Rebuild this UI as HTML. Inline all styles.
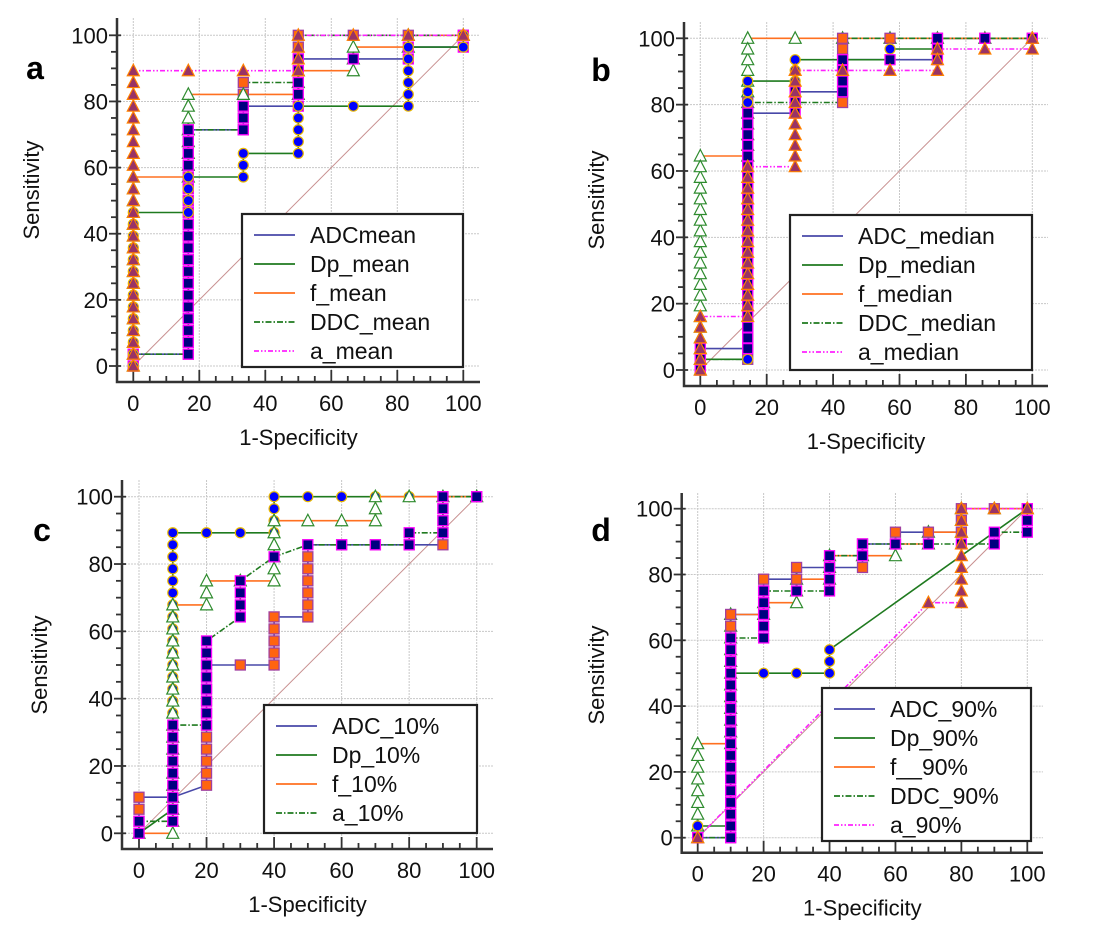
<!DOCTYPE html>
<html><head><meta charset="utf-8">
<style>
html,body{margin:0;padding:0;background:#fff;}
svg{display:block;font-family:"Liberation Sans",Arial,sans-serif;}
</style></head>
<body>
<svg id="fig" width="1094" height="931" viewBox="0 0 1094 931" xmlns="http://www.w3.org/2000/svg"></svg>
<script>
// ---- data (corner points: [false-positive count, true-positive count]) ----
const tickLabels = [0,20,40,60,80,100];
const legendA = ["ADCmean","Dp_mean","f_mean","DDC_mean","a_mean"];
const legendB = ["ADC_median","Dp_median","f_median","DDC_median","a_median"];
const legendC = ["ADC_10%","Dp_10%","f_10%","a_10%"];
const legendD = ["ADC_90%","Dp_90%","f__90%","DDC_90%","a_90%"];

const aADC = [[0,0],[0,1],[1,1],[1,20],[2,20],[2,22],[3,22],[3,26],[5,26],[5,27],[6,27],[6,28]];
const aDp  = [[0,0],[0,13],[1,13],[1,16],[2,16],[2,18],[3,18],[3,22],[5,22],[5,27],[6,27],[6,28]];
const aF   = [[0,0],[0,16],[1,16],[1,23],[3,23],[3,25],[4,25],[4,27],[5,27],[5,28],[6,28]];
const aDDC = [[0,0],[0,1],[1,1],[1,20],[2,20],[2,24],[3,24],[3,28],[6,28]];
const aA   = [[0,0],[0,25],[3,25],[3,28],[6,28]];

const bADC = [[0,0],[0,2],[1,2],[1,24],[2,24],[2,26],[3,26],[3,29],[5,29],[5,31],[7,31]];
const bDp  = [[0,0],[0,1],[1,1],[1,27],[2,27],[2,29],[4,29],[4,30],[5,30],[5,31],[7,31]];
const bF   = [[0,0],[0,20],[1,20],[1,31],[7,31]];
const bDDC = [[0,0],[0,1],[1,1],[1,25],[3,25],[3,31],[7,31]];
const bA   = [[0,0],[0,5],[1,5],[1,19],[2,19],[2,28],[5,28],[5,30],[7,30],[7,31]];

const cADC = [[0,0],[0,3],[1,3],[2,4],[2,14],[4,14],[4,18],[5,18],[5,24],[7,24],[9,24],[9,28],[10,28]];
const cDp  = [[0,0],[1,2],[1,25],[4,25],[4,28],[10,28]];
const cF   = [[0,0],[1,0],[1,19],[2,19],[2,21],[4,21],[4,26],[7,26],[7,28],[10,28]];
const cA   = [[0,0],[0,1],[1,1],[1,9],[2,9],[2,16],[3,18],[3,21],[4,23],[5,24],[8,24],[8,25],[9,25],[9,28],[10,28]];

const dADC = [[0,0],[1,0],[1,19],[2,19],[2,22],[3,22],[3,23],[5,23],[5,25],[6,25],[6,26],[8,26],[8,28],[10,28]];
const dDp  = [[0,0],[0,1],[1,1],[1,14],[4,14],[4,16],[10,28]];
const dF   = [[0,0],[0,8],[1,8],[1,19],[2,19],[2,20],[3,20],[3,22],[4,22],[4,24],[6,24],[6,25],[7,25],[7,26],[8,26],[8,28],[10,28]];
const dDDC = [[0,0],[1,0],[1,17],[2,17],[2,21],[4,21],[4,24],[5,24],[5,25],[9,25],[9,26],[10,26],[10,28]];
const dA   = [[0,0],[7,20],[8,20],[8,28],[10,28]];

// ---- styles ----
const LINE = {
  ADC:{c:"#4848a8",d:""}, Dp:{c:"#1f7a1f",d:""}, f:{c:"#ff7020",d:""},
  DDC:{c:"#1f7a1f",d:"6,2,1.5,2"}, a:{c:"#ff20ff",d:"5,2,1.5,2,1.5,2"}
};
const MK = {
  navy:{t:"sq",f:"#000080",s:"#ff00ff"}, orange:{t:"sq",f:"#ff6410",s:"#a040a0"},
  circ:{t:"ci",f:"#0000ff",s:"#e8b800"}, wtri:{t:"tr",f:"#ffffff",s:"#2e8b2e"},
  ptri:{t:"tr",f:"#993366",s:"#ff8000"}
};

const panels = [
 {id:"a",x0:133.3,x1:463.3,y0:366,y1:35.3,left:117,bottom:382,top:18,right:480,M:6,N:28,
  lg:{x:242,y:214,w:221,h:153},labels:legendA,letter:[35,68],ytitle:[32,190],
  series:[["ADC",aADC,"navy"],["Dp",aDp,"circ"],["f",aF,"wtri"],["DDC",aDDC,"orange"],["a",aA,"ptri"]],
  order:[3,2,0,1,4]},
 {id:"b",x0:700.3,x1:1032.3,y0:370,y1:38.3,left:684,bottom:386,top:22,right:1048,M:7,N:31,
  lg:{x:790,y:215,w:242,h:155},labels:legendB,letter:[601,70],ytitle:[597,200],
  series:[["ADC",bADC,"navy"],["Dp",bDp,"circ"],["f",bF,"wtri"],["DDC",bDDC,"orange"],["a",bA,"ptri"]],
  order:[2,3,1,0,4]},
 {id:"c",x0:139,x1:476.7,y0:833.3,y1:496.7,left:122,bottom:849,top:480,right:493,M:10,N:28,
  lg:{x:264,y:705,w:213,h:128},labels:legendC,letter:[42,530],ytitle:[40,665],
  series:[["ADC",cADC,"orange"],["Dp",cDp,"circ"],["f",cF,"wtri"],["a",cA,"navy"]],
  order:[0,1,2,3]},
 {id:"d",x0:697.7,x1:1027.3,y0:837.7,y1:508.7,left:681.7,bottom:852.7,top:493,right:1043,M:10,N:28,
  lg:{x:822,y:688,w:209,h:153},labels:legendD,letter:[601,530],ytitle:[597,675],
  series:[["ADC",dADC,"orange"],["Dp",dDp,"circ"],["f",dF,"wtri"],["DDC",dDDC,"navy"],["a",dA,"ptri"]],
  order:[2,0,1,3,4]}
];

const NS="http://www.w3.org/2000/svg";
const svg=document.getElementById("fig");
function el(tag,attrs,parent){const e=document.createElementNS(NS,tag);for(const k in attrs)e.setAttribute(k,attrs[k]);(parent||svg).appendChild(e);return e;}

panels.forEach(p=>{
  const g=el("g",{});
  
  
  const X=v=>p.x0+(p.x1-p.x0)*v/100, Y=v=>p.y0+(p.y1-p.y0)*v/100;
  const XC=c=>X(c/p.M*100), YC=c=>Y(c/p.N*100);
  tickLabels.forEach(t=>{
    const gv=el("line",{x1:X(t),x2:X(t),y1:p.top,y2:p.bottom,stroke:"#c8c8c8","stroke-width":1,"stroke-dasharray":"2,1"},g);
    
    
    const gh=el("line",{x1:p.left,x2:p.right,y1:Y(t),y2:Y(t),stroke:"#c8c8c8","stroke-width":1,"stroke-dasharray":"2,1"},g);
    
    
  });
  const dg=el("line",{x1:X(0),y1:Y(0),x2:X(100),y2:Y(100),stroke:"#c89090","stroke-width":1},g);
  
  
  for(let v=0;v<=100;v+=5){
    const major=v%20===0;
    const ty=el("line",{x1:p.left-(major?8:6),x2:p.left+(major?4:0),y1:Y(v),y2:Y(v),stroke:"#333","stroke-width":1.8},g);
    
    
    const tx=el("line",{x1:X(v),x2:X(v),y1:p.bottom,y2:p.bottom-(major?12:6),stroke:"#333","stroke-width":1.8},g);
    
    
  }
  tickLabels.forEach(t=>{
    const lx=el("text",{x:X(t),y:p.bottom+29,"font-size":22,"text-anchor":"middle",fill:"#111"},g);
    lx.textContent=t;
    
    
    const ly=el("text",{x:p.left-9,y:Y(t)+8,"font-size":22,"text-anchor":"end",fill:"#111"},g);
    ly.textContent=t;
    
    
  });
  const sp=el("path",{d:`M${p.left},${p.top} L${p.left},${p.bottom} L${p.right},${p.bottom}`,fill:"none",stroke:"#333","stroke-width":2.5},g);
  
  
  const xt=el("text",{x:(p.left+p.right)/2,y:p.bottom+63,"font-size":22,"text-anchor":"middle",fill:"#111"},g);
  xt.textContent="1-Specificity";
  
  
  const yt=el("text",{x:0,y:0,"font-size":22,"text-anchor":"middle",fill:"#111",transform:`translate(${p.ytitle[0]+7},${p.ytitle[1]}) rotate(-90)`},g);
  yt.textContent="Sensitivity";
  
  
  const lt=el("text",{x:p.letter[0],y:p.letter[1]+11,"font-size":32,"font-weight":"bold","text-anchor":"middle",fill:"#000"},g);
  lt.textContent=p.id;
  
  
  p.series.forEach((s,i)=>{
    const sty = (p.id==="c"&&s[0]==="a")?LINE.DDC:LINE[s[0]];
    const d=s[1].map((pt,j)=>(j?"L":"M")+XC(pt[0]).toFixed(1)+","+YC(pt[1]).toFixed(1)).join(" ");
    const ln=el("path",{d:d,fill:"none",stroke:sty.c,"stroke-width":1.6,"stroke-dasharray":sty.d},g);
    
    
  });
  p.order.forEach(i=>{
    const s=p.series[i], m=MK[s[2]], pts=s[1];
    const seen={};
    const draw=(cx,cy)=>{
      const key=cx+"_"+cy; if(seen[key])return; seen[key]=1;
      const x=XC(cx), y=YC(cy); let e;
      if(m.t==="sq") e=el("rect",{x:x-5,y:y-5,width:10,height:10,fill:m.f,stroke:m.s,"stroke-width":1.3},g);
      else if(m.t==="ci") e=el("circle",{cx:x,cy:y,r:5,fill:m.f,stroke:m.s,"stroke-width":1.2},g);
      else e=el("polygon",{points:`${x},${y-6.5} ${x-6},${y+5} ${x+6},${y+5}`,fill:m.f,stroke:m.s,"stroke-width":1.2},g);
      
      
    };
    for(let j=0;j<pts.length;j++){
      draw(pts[j][0],pts[j][1]);
      if(j>0){
        const a=pts[j-1],b=pts[j];
        if(a[0]===b[0]){for(let k=Math.min(a[1],b[1]);k<=Math.max(a[1],b[1]);k++)draw(a[0],k);}
        else if(a[1]===b[1]){for(let k=Math.min(a[0],b[0]);k<=Math.max(a[0],b[0]);k++)draw(k,a[1]);}
      }
    }
  });
  const L=p.lg;
  const box=el("rect",{x:L.x,y:L.y,width:L.w,height:L.h,fill:"#fff",stroke:"#222","stroke-width":2.2},g);
  
  
  const keys = p.id==="c"?["ADC","Dp","f","DDC"]:["ADC","Dp","f","DDC","a"];
  p.labels.forEach((lab,i)=>{
    const cy=L.y+21+i*29;
    const st = LINE[keys[i]];
    const sl=el("line",{x1:L.x+12,x2:L.x+53,y1:cy,y2:cy,stroke:st.c,"stroke-width":1.8,"stroke-dasharray":st.d},g);
    
    
    const tx=el("text",{x:L.x+68,y:cy+8,"font-size":23,fill:"#111"},g);
    tx.textContent=lab;
    
    
  });
});
</script>
</body></html>
